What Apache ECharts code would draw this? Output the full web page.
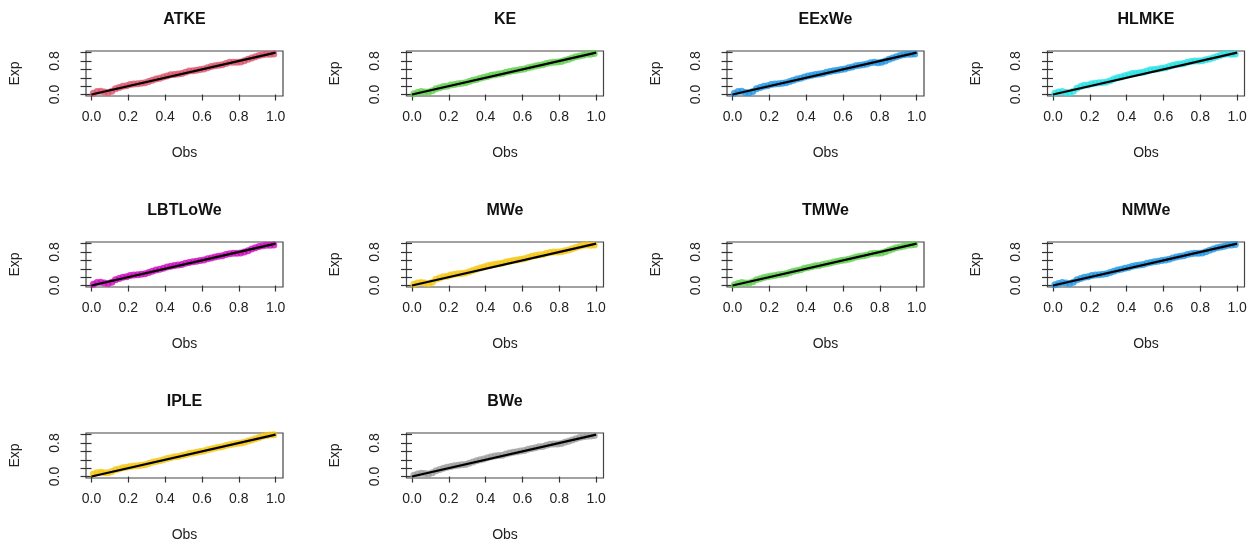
<!DOCTYPE html>
<html>
<head>
<meta charset="utf-8">
<title>P-P plots</title>
<script src="https://cdn.jsdelivr.net/npm/echarts@6/dist/echarts.min.js"></script>
<style>
  html, body { margin: 0; padding: 0; background: #fff; }
  #chart { width: 1259px; height: 544px; }
</style>
</head>
<body>
<div id="chart"></div>
<script>
// Model names, one panel each
const models = ['ATKE', 'KE', 'EExWe', 'HLMKE', 'LBTLoWe', 'MWe', 'TMWe', 'NMWe', 'IPLE', 'BWe'];

// Observed probabilities (shared by every panel)
const obs = [0.01,0.03,0.05,0.07,0.09,0.11,0.13,0.15,0.17,0.19,0.21,0.23,0.25,0.27,0.29,0.31,0.33,0.35,0.37,0.39,
             0.41,0.43,0.45,0.47,0.49,0.51,0.53,0.55,0.57,0.59,0.61,0.63,0.65,0.67,0.69,0.71,0.73,0.75,0.77,0.79,
             0.81,0.83,0.85,0.87,0.89,0.91,0.93,0.95,0.97,0.99];

// Expected probabilities under each fitted model
const expATKE = [0.03,0.07,0.08,0.06,0.05,0.08,0.14,0.17,0.20,0.21,0.24,0.25,0.26,0.27,0.28,0.31,0.34,0.37,0.39,0.42,
                 0.44,0.47,0.48,0.49,0.50,0.53,0.56,0.57,0.58,0.60,0.61,0.64,0.67,0.69,0.70,0.71,0.74,0.77,0.77,0.77,
                 0.78,0.81,0.84,0.87,0.90,0.93,0.95,0.96,0.96,0.97];
const expKE = [0.02,0.05,0.07,0.06,0.06,0.09,0.14,0.16,0.19,0.20,0.23,0.24,0.26,0.27,0.28,0.31,0.34,0.36,0.39,0.41,
               0.43,0.46,0.47,0.49,0.50,0.53,0.55,0.57,0.58,0.60,0.61,0.64,0.66,0.68,0.70,0.71,0.74,0.76,0.77,0.78,
               0.79,0.82,0.84,0.87,0.90,0.92,0.94,0.96,0.96,0.98];
const expEExWe = [0.03,0.07,0.08,0.05,0.04,0.07,0.14,0.17,0.20,0.21,0.24,0.25,0.26,0.27,0.28,0.31,0.34,0.37,0.39,0.42,
                  0.44,0.46,0.48,0.49,0.50,0.53,0.55,0.57,0.58,0.60,0.61,0.64,0.66,0.69,0.70,0.71,0.73,0.76,0.77,0.76,
                  0.77,0.80,0.84,0.87,0.90,0.93,0.95,0.96,0.96,0.97];
const expHLMKE = [0.03,0.06,0.07,0.05,0.04,0.08,0.15,0.19,0.22,0.23,0.26,0.27,0.28,0.29,0.30,0.33,0.37,0.40,0.42,0.45,
                  0.47,0.50,0.51,0.52,0.53,0.56,0.59,0.60,0.61,0.63,0.64,0.67,0.70,0.72,0.73,0.74,0.77,0.79,0.80,0.80,
                  0.81,0.83,0.85,0.88,0.91,0.94,0.96,0.97,0.96,0.97];
const expLBTLoWe = [0.03,0.07,0.08,0.06,0.05,0.08,0.14,0.17,0.20,0.21,0.24,0.25,0.26,0.27,0.28,0.31,0.34,0.37,0.39,0.41,
                    0.44,0.46,0.48,0.49,0.50,0.53,0.55,0.57,0.58,0.60,0.61,0.64,0.66,0.68,0.70,0.71,0.74,0.76,0.77,0.77,
                    0.78,0.80,0.83,0.87,0.90,0.93,0.95,0.96,0.96,0.97];
const expMWe = [0.03,0.06,0.07,0.06,0.05,0.08,0.15,0.18,0.21,0.22,0.25,0.27,0.28,0.29,0.30,0.33,0.36,0.39,0.42,0.44,
                0.47,0.49,0.51,0.52,0.53,0.56,0.58,0.60,0.61,0.63,0.64,0.67,0.70,0.72,0.73,0.74,0.77,0.79,0.80,0.80,
                0.81,0.83,0.85,0.88,0.91,0.94,0.96,0.97,0.96,0.97];
const expTMWe = [0.02,0.05,0.07,0.06,0.06,0.09,0.14,0.16,0.19,0.21,0.23,0.24,0.26,0.27,0.28,0.31,0.34,0.36,0.38,0.41,
                 0.43,0.45,0.47,0.48,0.50,0.52,0.54,0.56,0.58,0.60,0.61,0.63,0.65,0.68,0.70,0.71,0.73,0.76,0.77,0.77,
                 0.78,0.81,0.84,0.87,0.90,0.92,0.94,0.96,0.97,0.98];
const expNMWe = [0.02,0.05,0.07,0.06,0.05,0.08,0.14,0.17,0.20,0.21,0.24,0.25,0.26,0.27,0.28,0.31,0.34,0.37,0.39,0.41,
                 0.43,0.46,0.48,0.49,0.50,0.53,0.55,0.57,0.58,0.60,0.61,0.63,0.66,0.68,0.70,0.71,0.74,0.76,0.77,0.77,
                 0.78,0.81,0.84,0.87,0.90,0.92,0.94,0.96,0.97,0.98];
const expIPLE = [0.06,0.09,0.10,0.09,0.09,0.12,0.16,0.18,0.21,0.22,0.24,0.25,0.26,0.27,0.28,0.31,0.34,0.36,0.38,0.40,
                 0.43,0.45,0.47,0.48,0.50,0.52,0.55,0.56,0.58,0.60,0.61,0.64,0.66,0.68,0.70,0.71,0.74,0.76,0.78,0.79,
                 0.80,0.82,0.85,0.87,0.90,0.93,0.96,0.98,0.99,1.00];
const expBWe = [0.03,0.06,0.08,0.07,0.06,0.09,0.14,0.17,0.20,0.22,0.24,0.26,0.27,0.28,0.29,0.32,0.35,0.38,0.40,0.42,
                0.45,0.47,0.49,0.50,0.51,0.54,0.56,0.58,0.59,0.61,0.62,0.65,0.67,0.69,0.71,0.72,0.75,0.77,0.78,0.78,
                0.79,0.82,0.84,0.87,0.90,0.93,0.95,0.96,0.97,0.98];

const expValues = [expATKE, expKE, expEExWe, expHLMKE, expLBTLoWe, expMWe, expTMWe, expNMWe, expIPLE, expBWe];

// Reference line y = x, end points
const refLine = [[0, 0], [1, 1]];

// Tick positions and labelled ticks
const xTicks = [0, 0.2, 0.4, 0.6, 0.8, 1.0];
const yTicks = [0, 0.2, 0.4, 0.6, 0.8, 1.0];
const yLabelTicks = [0, 0.8];

// Point colours per panel
const colors = ['#DF536B', '#61D04F', '#2297E6', '#28E2E5', '#CD0BBC', '#F5C710', '#61D04F', '#2297E6', '#F5C710', '#9E9E9E'];

const FONT = '"Liberation Sans", Arial, sans-serif';
const BOX_LEFT = 86, BOX_TOP = 51, COL_STEP = 320.5, ROW_STEP = 191, BOX_W = 197, BOX_H = 45;

const grids = [], xAxes = [], yAxes = [], series = [], graphics = [];

models.forEach((name, i) => {
  const c = i % 4, r = Math.floor(i / 4);
  const left = BOX_LEFT + COL_STEP * c;
  const top = BOX_TOP + ROW_STEP * r;

  grids.push({
    left: left, top: top, width: BOX_W, height: BOX_H,
    show: true, borderColor: '#444', borderWidth: 1.2, backgroundColor: 'transparent'
  });

  xAxes.push({
    type: 'value', gridIndex: i, min: -0.03, max: 1.04,
    axisLine: { show: false },
    axisTick: { show: true, inside: false, length: 6, customValues: xTicks, lineStyle: { color: '#333', width: 1.2 } },
    axisLabel: { customValues: xTicks, formatter: v => v.toFixed(1), margin: 14, fontSize: 14, fontFamily: FONT, color: '#222' },
    splitLine: { show: false },
    name: 'Obs', nameLocation: 'middle', nameGap: 50,
    nameTextStyle: { fontSize: 14, fontFamily: FONT, color: '#222' }
  });

  yAxes.push({
    type: 'value', gridIndex: i, min: -0.035, max: 1.04,
    axisLine: { show: false },
    axisTick: { show: true, inside: false, length: 11, customValues: yTicks, lineStyle: { color: '#333', width: 1.2 } },
    axisLabel: { customValues: yLabelTicks, formatter: v => v.toFixed(1), rotate: 90, margin: 24, fontSize: 14, fontFamily: FONT, color: '#222' },
    splitLine: { show: false },
    name: 'Exp', nameLocation: 'middle', nameGap: 64, nameRotate: 90,
    nameTextStyle: { fontSize: 14, fontFamily: FONT, color: '#222' }
  });

  series.push({
    type: 'scatter', xAxisIndex: i, yAxisIndex: i,
    data: obs.map((x, k) => [x, expValues[i][k]]),
    symbol: 'circle', symbolSize: 7,
    itemStyle: { color: colors[i] },
    silent: true, z: 2
  });

  series.push({
    type: 'line', xAxisIndex: i, yAxisIndex: i,
    data: refLine, showSymbol: false, symbol: 'none',
    lineStyle: { color: '#000', width: 2.2 },
    silent: true, z: 3
  });

  graphics.push({
    type: 'text', x: left + BOX_W / 2, y: 20 + ROW_STEP * r,
    style: { text: name, textAlign: 'center', textVerticalAlign: 'middle', font: 'bold 16px ' + FONT, fill: '#111' }
  });
});

const chart = echarts.init(document.getElementById('chart'), null, { renderer: 'canvas' });
chart.setOption({
  animation: false,
  backgroundColor: '#fff',
  grid: grids,
  xAxis: xAxes,
  yAxis: yAxes,
  series: series,
  graphic: graphics
});
</script>
</body>
</html>
